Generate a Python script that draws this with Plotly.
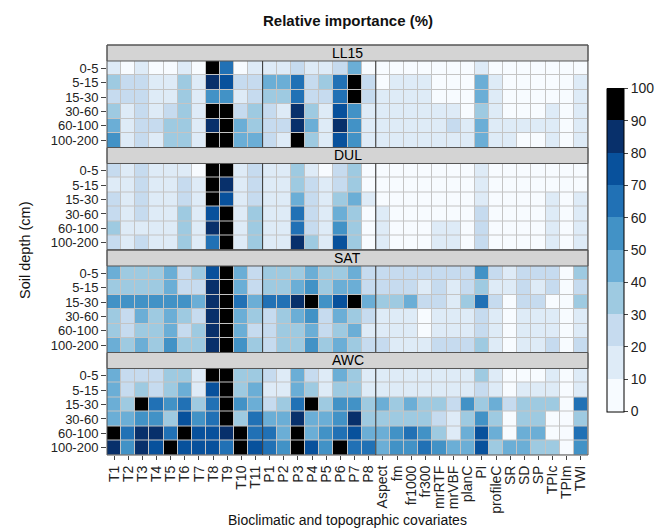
import plotly.graph_objects as go

covariates = ["T1", "T2", "T3", "T4", "T5", "T6", "T7", "T8", "T9", "T10", "T11",
              "P1", "P2", "P3", "P4", "P5", "P6", "P7", "P8",
              "Aspect", "fm", "fr1000", "fr300", "mrRTF", "mrVBF", "planC", "PI",
              "profileC", "SR", "SD", "SP", "TPIc", "TPIm", "TWI"]
depths = ["0-5", "5-15", "15-30", "30-60", "60-100", "100-200"]
properties = ["LL15", "DUL", "SAT", "AWC"]

# Relative importance (%) per depth row, columns follow `covariates`
ll15 = [
    [15, 5, 15, 5, 5, 15, 5, 95, 65, 5, 15, 15, 15, 25, 15, 15, 25, 45, 5, 5, 5, 5, 5, 5, 5, 5, 15, 5, 5, 5, 5, 5, 5, 5],
    [35, 25, 25, 15, 15, 35, 15, 85, 75, 25, 25, 45, 45, 65, 25, 35, 65, 95, 25, 5, 15, 15, 15, 5, 5, 5, 45, 15, 5, 5, 5, 5, 5, 15],
    [25, 25, 25, 15, 15, 35, 15, 55, 55, 15, 25, 35, 35, 65, 25, 25, 65, 95, 25, 15, 15, 15, 15, 5, 5, 5, 45, 15, 5, 5, 5, 5, 5, 15],
    [35, 15, 25, 15, 25, 35, 15, 95, 95, 25, 35, 25, 15, 85, 35, 15, 75, 55, 15, 15, 15, 15, 15, 15, 15, 5, 35, 15, 5, 5, 5, 15, 5, 15],
    [45, 15, 25, 25, 35, 35, 15, 85, 95, 45, 35, 25, 25, 85, 45, 15, 85, 55, 15, 15, 15, 15, 15, 15, 25, 15, 45, 15, 15, 15, 15, 15, 5, 15],
    [55, 15, 25, 15, 35, 35, 15, 95, 95, 45, 45, 25, 15, 95, 35, 15, 75, 55, 15, 15, 15, 15, 15, 15, 15, 15, 45, 15, 15, 5, 5, 15, 5, 15],
]
dul = [
    [25, 15, 25, 15, 15, 15, 5, 95, 95, 15, 25, 15, 15, 35, 15, 5, 25, 35, 5, 5, 5, 5, 5, 5, 5, 5, 15, 5, 5, 5, 5, 5, 5, 5],
    [15, 15, 25, 15, 15, 25, 15, 95, 85, 15, 25, 15, 15, 35, 25, 15, 25, 35, 5, 5, 5, 5, 5, 5, 5, 5, 15, 5, 5, 5, 5, 5, 5, 5],
    [25, 15, 25, 15, 15, 25, 15, 95, 75, 15, 25, 15, 15, 45, 25, 15, 35, 45, 15, 5, 5, 5, 5, 5, 5, 5, 15, 5, 5, 5, 5, 15, 5, 15],
    [25, 15, 25, 15, 15, 35, 15, 75, 95, 15, 35, 15, 15, 65, 25, 15, 45, 35, 5, 15, 5, 5, 5, 5, 5, 5, 25, 5, 5, 5, 5, 15, 5, 15],
    [35, 15, 15, 15, 15, 35, 15, 85, 95, 15, 35, 15, 15, 65, 25, 15, 55, 35, 5, 15, 5, 5, 5, 15, 15, 5, 25, 5, 5, 5, 5, 15, 5, 15],
    [25, 15, 25, 15, 15, 35, 15, 65, 95, 15, 35, 15, 15, 85, 35, 15, 75, 35, 5, 15, 5, 5, 5, 15, 15, 5, 25, 5, 5, 5, 5, 15, 5, 15],
]
sat = [
    [45, 35, 35, 35, 45, 25, 35, 75, 95, 45, 25, 35, 35, 35, 45, 35, 35, 45, 25, 25, 25, 25, 25, 25, 25, 25, 55, 25, 15, 25, 25, 25, 5, 35],
    [35, 35, 35, 35, 45, 25, 25, 85, 95, 45, 25, 35, 35, 45, 55, 35, 45, 45, 25, 25, 25, 25, 15, 25, 15, 25, 35, 15, 15, 25, 15, 25, 5, 25],
    [55, 55, 55, 55, 55, 55, 45, 85, 95, 65, 45, 65, 65, 85, 95, 55, 75, 95, 45, 35, 35, 45, 25, 25, 15, 35, 65, 25, 5, 25, 25, 5, 5, 35],
    [35, 25, 45, 35, 45, 35, 25, 85, 95, 45, 35, 25, 35, 45, 55, 25, 45, 35, 25, 15, 15, 15, 5, 15, 15, 15, 25, 15, 5, 15, 15, 15, 5, 15],
    [35, 25, 35, 35, 45, 25, 35, 85, 95, 45, 25, 25, 35, 35, 45, 25, 35, 45, 15, 15, 15, 15, 5, 15, 15, 15, 25, 15, 5, 15, 15, 15, 5, 15],
    [45, 35, 45, 35, 55, 35, 35, 85, 95, 55, 35, 25, 35, 35, 55, 35, 45, 35, 25, 25, 15, 15, 15, 25, 25, 25, 35, 15, 5, 15, 15, 25, 5, 25],
]
awc = [
    [45, 25, 25, 25, 35, 35, 15, 95, 95, 35, 35, 25, 15, 45, 25, 15, 45, 35, 15, 15, 15, 15, 15, 15, 15, 15, 35, 15, 5, 5, 5, 15, 5, 15],
    [45, 25, 35, 25, 35, 45, 15, 75, 95, 35, 45, 15, 15, 45, 35, 15, 35, 35, 15, 15, 15, 15, 15, 15, 15, 15, 25, 15, 5, 15, 15, 15, 5, 15],
    [45, 35, 95, 65, 55, 65, 35, 65, 95, 55, 45, 25, 35, 65, 95, 35, 55, 55, 35, 45, 35, 45, 35, 35, 25, 55, 35, 45, 25, 35, 35, 35, 5, 65],
    [45, 45, 55, 55, 35, 75, 55, 65, 95, 35, 65, 45, 45, 85, 45, 45, 55, 85, 35, 35, 35, 35, 35, 25, 15, 35, 55, 35, 5, 35, 35, 5, 5, 35],
    [95, 65, 85, 85, 65, 95, 75, 75, 85, 95, 65, 65, 45, 95, 45, 55, 65, 75, 45, 45, 55, 65, 55, 35, 15, 45, 75, 45, 5, 45, 45, 5, 5, 65],
    [85, 55, 85, 75, 95, 75, 75, 75, 65, 95, 75, 65, 55, 95, 75, 55, 95, 65, 65, 45, 55, 55, 65, 55, 45, 45, 75, 35, 45, 45, 35, 35, 5, 55],
]
panel_values = [ll15, dul, sat, awc]

bin_colors = ["#F7FBFF", "#DEEBF7", "#C6DBEF", "#9ECAE1", "#6BAED6",
              "#4292C6", "#2171B5", "#08519C", "#08306B", "#000000"]
colorscale = []
for i, c in enumerate(bin_colors):
    colorscale.append([i / 10, c])
    colorscale.append([(i + 1) / 10, c])

FONT = "Liberation Sans, Arial, sans-serif"
fig = go.Figure()

panel_h = 0.25
strip_h = 0.039
shapes = []
annotations = []
for k, (prop, vals) in enumerate(zip(properties, panel_values)):
    idx = k + 1
    top = 1 - k * panel_h
    bottom = top - panel_h
    cell_top = top - strip_h
    xa = "x" if idx == 1 else f"x{idx}"
    ya = "y" if idx == 1 else f"y{idx}"
    fig.add_trace(go.Heatmap(
        z=vals, x=covariates, y=depths, xaxis=xa, yaxis=ya,
        zmin=0, zmax=100, colorscale=colorscale, xgap=1, ygap=1,
        showscale=(k == 0),
        colorbar=dict(x=1.039, xanchor="left", xpad=0, ypad=0, y=0.5, yanchor="middle",
                      len=0.788, thickness=17, outlinewidth=1, outlinecolor="#000",
                      tickvals=list(range(0, 101, 10)), ticks="outside", ticklen=4,
                      tickfont=dict(size=14, color="#222", family=FONT)),
        hovertemplate="%{x}, %{y}: %{z}%<extra>" + prop + "</extra>",
    ))
    fig.layout[f"xaxis{'' if idx == 1 else idx}"] = dict(
        domain=[0, 1], anchor=ya, type="category", categoryarray=covariates,
        tickmode="array", tickvals=covariates, ticktext=covariates,
        showticklabels=(k == 3), ticks="outside" if k == 3 else "", ticklen=4,
        tickangle=-90, tickfont=dict(size=14, color="#222", family=FONT),
        showgrid=False, zeroline=False, showline=False,
        matches=None if idx == 1 else "x")
    fig.layout[f"yaxis{'' if idx == 1 else idx}"] = dict(
        domain=[bottom, cell_top], anchor=xa, type="category",
        categoryarray=depths, autorange="reversed",
        tickmode="array", tickvals=depths, ticktext=depths,
        ticks="outside", ticklen=5, tickfont=dict(size=13, color="#222", family=FONT),
        showgrid=False, zeroline=False, showline=False)
    # strip
    shapes.append(dict(type="rect", xref="paper", yref="paper", x0=0, x1=1,
                       y0=cell_top, y1=top, fillcolor="#D4D4D4",
                       line=dict(color="#555", width=1), layer="above"))
    # panel border
    shapes.append(dict(type="rect", xref="paper", yref="paper", x0=0, x1=1,
                       y0=bottom, y1=top, line=dict(color="#555", width=1),
                       layer="above"))
    for xb in (10.5, 18.5):
        shapes.append(dict(type="line", xref=xa, yref="paper", x0=xb, x1=xb,
                           y0=bottom, y1=cell_top, line=dict(color="#333", width=1),
                           layer="above"))
    annotations.append(dict(text=prop, xref="paper", yref="paper", x=0.5,
                            y=(cell_top + top) / 2, xanchor="center", yanchor="middle",
                            showarrow=False,
                            font=dict(size=14, color="#000", family=FONT)))

annotations.append(dict(text="<b>Relative importance (%)</b>", xref="paper", yref="paper",
                        x=0.5, y=1, yshift=25, xanchor="center", yanchor="middle",
                        showarrow=False, font=dict(size=15, color="#111", family=FONT)))
annotations.append(dict(text="Soil depth (cm)", xref="paper", yref="paper",
                        x=0, xshift=-82, y=0.5, xanchor="center", yanchor="middle",
                        textangle=-90, showarrow=False,
                        font=dict(size=14.5, color="#111", family=FONT)))
annotations.append(dict(text="Bioclimatic and topographic covariates", xref="paper",
                        yref="paper", x=0.5, y=0, yshift=-65, xanchor="center",
                        yanchor="middle", showarrow=False,
                        font=dict(size=14, color="#111", family=FONT)))

# page body has an 8px default margin, so the figure is sized to fit the window
fig.update_layout(
    width=659, height=523,
    margin=dict(l=99, r=65, t=37, b=76),
    paper_bgcolor="white", plot_bgcolor="#C4C4C4",
    font=dict(family=FONT),
    shapes=shapes, annotations=annotations,
)

fig.write_html("out.html")
